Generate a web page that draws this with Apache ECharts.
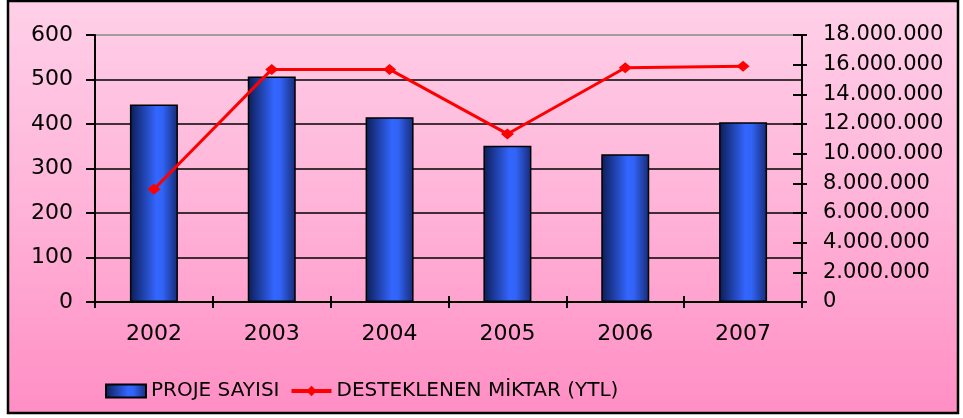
<!DOCTYPE html>
<html><head><meta charset="utf-8">
<script src="https://cdn.jsdelivr.net/npm/echarts@6/dist/echarts.min.js"></script>
<style>html,body{margin:0;padding:0;background:#fff}#c{width:963px;height:418px}</style>
</head><body><div id="c"></div>
<script>
const categories = ['2002','2003','2004','2005','2006','2007'];
const projeSayisi = [444, 507, 415, 351, 332, 404];
const desteklenenMiktar = [7600000, 15680000, 15680000, 11330000, 15790000, 15900000];
const leftTicks = {min: 0, max: 600, interval: 100};
const rightTicks = {min: 0, max: 18000000, interval: 2000000};
const seriesNames = ['PROJE SAYISI', 'DESTEKLENEN MİKTAR (YTL)'];

const FONT = 'DejaVu Sans';
function fmt(v){ return String(v).replace(/\B(?=(\d{3})+(?!\d))/g, '.'); }

const chart = echarts.init(document.getElementById('c'), null, {renderer:'canvas'});
chart.setOption({
  animation: false,
  backgroundColor: 'transparent',
  graphic: [{
    type: 'rect', z: -10, silent: true,
    shape: {x: 8, y: 1, width: 950, height: 412},
    style: {
      fill: new echarts.graphic.LinearGradient(0,0,0,1,[
        {offset:0, color:'#ffd0e8'},{offset:0.5, color:'#ffb3d8'},{offset:1, color:'#ff8ec4'}]),
      stroke: '#000', lineWidth: 2.5
    }
  }],
  grid: {left: 95, right: 161, top: 35, bottom: 116, containLabel: false},
  legend: {
    left: 100, top: 376, itemWidth: 40, itemHeight: 13, itemGap: 10,
    textStyle: {fontFamily: FONT, fontSize: 20, color: '#000'},
    lineStyle: {width: 4},
    data: [
      {name: seriesNames[0], icon: 'rect'},
      {name: seriesNames[1]}
    ]
  },
  xAxis: [{
    type: 'category', data: categories, position: 'bottom',
    axisLine: {lineStyle: {color: '#000', width: 2}},
    axisTick: {show: true, length: 6, lineStyle: {color: '#000', width: 2}},
    axisLabel: {fontFamily: FONT, fontSize: 22, color: '#000', margin: 21},
    splitLine: {show: false}
  },{
    type: 'category', data: categories, position: 'bottom',
    axisLine: {show: false},
    axisTick: {show: true, inside: true, length: 6, lineStyle: {color: '#000', width: 2}},
    axisLabel: {show: false}
  }],
  yAxis: [{
    type: 'value', position: 'left', min: leftTicks.min, max: leftTicks.max, interval: leftTicks.interval,
    axisLine: {show: true, lineStyle: {color: '#000', width: 2}},
    axisTick: {show: true, length: 9, lineStyle: {color: '#000', width: 2}},
    axisLabel: {fontFamily: FONT, fontSize: 22, color: '#000', margin: 22},
    splitLine: {show: true, lineStyle: {color: ['#000','#000','#000','#000','#000','#000','#888'], width: 1.5}}
  },{
    type: 'value', position: 'right', min: rightTicks.min, max: rightTicks.max, interval: rightTicks.interval,
    axisLine: {show: true, lineStyle: {color: '#000', width: 2}},
    axisTick: {show: true, length: 5, lineStyle: {color: '#000', width: 2}},
    axisLabel: {fontFamily: FONT, fontSize: 21, color: '#000', margin: 21, formatter: fmt},
    splitLine: {show: false}
  },{
    type: 'value', position: 'right', min: rightTicks.min, max: rightTicks.max, interval: rightTicks.interval,
    axisLine: {show: false},
    axisTick: {show: true, inside: true, length: 9, lineStyle: {color: '#000', width: 2}},
    axisLabel: {show: false}, splitLine: {show: false}
  }],
  series: [{
    name: seriesNames[0], type: 'bar', data: projeSayisi, barWidth: 48, xAxisIndex: 0, yAxisIndex: 0,
    itemStyle: {
      color: new echarts.graphic.LinearGradient(0,0,1,0,[
        {offset:0, color:'#0c1c55'},{offset:0.55, color:'#3366ff'},{offset:0.68, color:'#3163f5'},{offset:1, color:'#172a74'}]),
      borderColor: '#000', borderWidth: 1.5
    }
  },{
    name: seriesNames[1], type: 'line', data: desteklenenMiktar, xAxisIndex: 0, yAxisIndex: 1,
    symbol: 'diamond', symbolSize: [13, 11], showAllSymbol: true,
    lineStyle: {color: '#ff0000', width: 3},
    itemStyle: {color: '#ff0000'}, z: 5
  }]
});
</script></body></html>
